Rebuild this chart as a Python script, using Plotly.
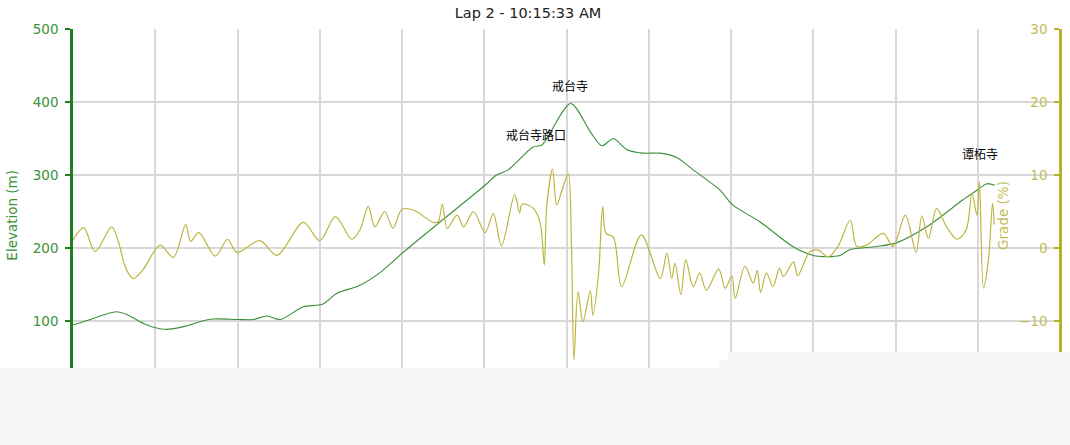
import plotly.graph_objects as go

# ---------------- data ----------------
title_text = "Lap 2 - 10:15:33 AM"

elev_dist = [0.00, 0.18, 0.53, 0.67, 0.89, 1.12, 1.37, 1.54, 1.70, 2.01, 2.19, 2.36, 2.52,
             2.80, 3.03, 3.21, 3.49, 3.74, 4.01, 4.51, 5.01, 5.15, 5.29, 5.59, 5.70, 6.05,
             6.29, 6.43, 6.57, 6.73, 6.93, 7.14, 7.34, 7.54, 7.87, 8.02, 8.35, 8.75, 8.99,
             9.16, 9.33, 9.45, 9.77, 10.01, 10.38, 10.82, 10.99, 11.11, 11.21]
elevation = [94.5, 101, 112.7, 108, 95, 88.6, 93, 99, 102.7, 102, 102, 106.8, 102,
             119.6, 122.8, 138, 149, 167, 193.6, 240, 286, 300, 307, 338, 341, 398,
             359, 340, 350, 335, 330, 330, 324, 307, 279, 259, 236, 202, 190,
             188, 190, 198, 202, 207, 229, 266, 279, 288, 286]

grade_dist = [0.00, 0.13, 0.27, 0.47, 0.55, 0.64, 0.73, 0.85, 1.06, 1.22, 1.37, 1.43, 1.53,
              1.73, 1.88, 1.99, 2.27, 2.48, 2.80, 3.00, 3.19, 3.39, 3.49, 3.59, 3.67, 3.79,
              3.89, 4.00, 4.14, 4.38, 4.44, 4.49, 4.55, 4.67, 4.75, 4.87, 5.01, 5.11, 5.21,
              5.37, 5.43, 5.46, 5.60, 5.68, 5.73, 5.76, 5.83, 5.88, 5.94, 6.02, 6.06, 6.09,
              6.14, 6.20, 6.29, 6.32, 6.39, 6.44, 6.48, 6.57, 6.67, 6.91, 7.14, 7.22, 7.28,
              7.32, 7.39, 7.45, 7.54, 7.62, 7.70, 7.85, 7.93, 8.01, 8.05, 8.17, 8.27, 8.32,
              8.36, 8.43, 8.51, 8.59, 8.64, 8.76, 8.81, 8.96, 9.06, 9.18, 9.30, 9.45, 9.53,
              9.65, 9.85, 9.97, 10.12, 10.25, 10.32, 10.40, 10.50, 10.62, 10.75, 10.86,
              10.93, 10.99, 11.02, 11.07, 11.13, 11.18, 11.20]
grade = [1.1, 2.8, -0.5, 2.9, 0.9, -2.7, -4.2, -3.0, 0.4, -1.3, 3.2, 0.9, 2.1,
         -1.1, 1.2, -0.6, 1.0, -1.0, 3.5, 1.0, 4.3, 1.2, 2.5, 5.7, 2.9, 5.0,
         2.7, 5.3, 5.2, 3.5, 3.6, 6.0, 2.7, 4.5, 2.9, 5.0, 2.1, 4.7, 0.3,
         7.3, 4.8, 6.0, 5.4, 3.4, -2.3, 5.7, 10.8, 5.9, 7.7, 10.2, 0.6, -15.3,
         -6.0, -10.1, -5.8, -9.2, -3.5, 5.7, 2.0, 1.5, -5.3, 1.8, -4.2, -0.7, -4.2,
         -2.1, -6.4, -1.6, -5.3, -3.4, -5.8, -2.9, -5.5, -3.8, -6.9, -2.5, -4.8, -3.1,
         -6.1, -3.4, -5.3, -2.8, -3.9, -1.9, -3.8, -0.5, -0.3, -1.2, 0.2, 3.8, 0.2,
         0.4, 2.0, 0.2, 4.5, -0.6, 4.4, 1.3, 5.4, 2.9, 1.2, 2.5,
         7.5, 4.5, 9.1, -5.5, -1.6, 6.1, 3.2]

waypoint_names = ["戒台寺路口", "戒台寺", "谭柘寺"]
waypoint_dist = [5.63, 6.04, 11.03]
waypoint_elev = [356, 422, 330]

elev_ticks = [0, 100, 200, 300, 400, 500]
grade_ticks = [-20, -10, 0, 10, 20, 30]

# ---------------- styles ----------------
GREEN_AXIS = "#1f7f1f"
GREEN_LINE = "#3a8f3a"
GREEN_TEXT = "#3a923a"
OLIVE_AXIS = "#b8b028"
OLIVE_LINE = "#bdb540"
OLIVE_TEXT = "#c2bb55"
GRID = "#d8d8d8"
FONT = "DejaVu Sans"

fig = go.Figure()
fig.add_trace(go.Scatter(x=grade_dist, y=grade, yaxis="y2", mode="lines",
                         line=dict(color=OLIVE_LINE, width=1.2, shape="spline", smoothing=0.9),
                         name="Grade", hoverinfo="skip"))
fig.add_trace(go.Scatter(x=elev_dist, y=elevation, mode="lines",
                         line=dict(color=GREEN_LINE, width=1.1, shape="spline", smoothing=0.8),
                         name="Elevation", hoverinfo="skip"))

for n, d, e in zip(waypoint_names, waypoint_dist, waypoint_elev):
    fig.add_annotation(x=d, y=e, text=n, showarrow=False, xref="x", yref="y",
                       font=dict(family="Noto Sans CJK SC", size=12, color="#000000"))

# axis titles as annotations
fig.add_annotation(x=-0.0613, y=0.49, xref="paper", yref="paper", text="Elevation (m)",
                   textangle=-90, showarrow=False, xanchor="center", yanchor="middle",
                   font=dict(family=FONT, size=13.5, color=GREEN_TEXT))
fig.add_annotation(x=0.942, y=0.49, xref="paper", yref="paper", text="Grade (%)",
                   textangle=-90, showarrow=False, xanchor="center", yanchor="middle",
                   font=dict(family=FONT, size=13.5, color=OLIVE_TEXT))

# bottom overlay (cropped region)
OVER = "#f6f6f6"
fig.add_shape(type="rect", xref="paper", yref="paper", x0=-0.08, x1=0.6636,
              y0=-0.2, y1=0.0712, fillcolor=OVER, line=dict(width=0), layer="above")
fig.add_shape(type="rect", xref="paper", yref="paper", x0=0.655, x1=0.6636,
              y0=-0.2, y1=0.093, fillcolor=OVER, line=dict(width=0), layer="above")
fig.add_shape(type="rect", xref="paper", yref="paper", x0=0.6636, x1=1.02,
              y0=-0.2, y1=0.115, fillcolor=OVER, line=dict(width=0), layer="above")

fig.update_layout(
    width=1070, height=445,
    margin=dict(l=73, r=10, t=29, b=51, autoexpand=False),
    paper_bgcolor="white", plot_bgcolor="white",
    showlegend=False,
    title=dict(text=title_text, x=0.4935, xanchor="center", y=0.97, yanchor="middle",
               font=dict(family=FONT, size=14.5, color="#222222")),
    xaxis=dict(range=[0, 12], dtick=1, tick0=0, showgrid=True, gridcolor=GRID, gridwidth=2,
               showticklabels=False, zeroline=False, showline=False, ticks="",
               automargin=False),
    yaxis=dict(range=[0, 500], tickvals=elev_ticks, showgrid=True, gridcolor=GRID, gridwidth=2,
               zeroline=False, showline=True, linecolor=GREEN_AXIS, linewidth=2.5,
               ticks="outside", ticklen=5, tickwidth=2, tickcolor=GREEN_AXIS,
               tickfont=dict(family=FONT, size=13.5, color=GREEN_TEXT), ticklabelstandoff=4,
               automargin=False),
    yaxis2=dict(range=[-20, 30], tickvals=grade_ticks, overlaying="y", side="left",
                anchor="free", position=1.0,
                showgrid=False, zeroline=False, showline=True, linecolor=OLIVE_AXIS, linewidth=2.5,
                ticks="outside", ticklen=5, tickwidth=2, tickcolor=OLIVE_AXIS,
                tickfont=dict(family=FONT, size=13.5, color=OLIVE_TEXT), ticklabelstandoff=4,
                automargin=False),
)

fig.write_html("out.html", config={"displayModeBar": False},
               post_script="document.body.style.margin='0';document.body.style.overflow='hidden';")
